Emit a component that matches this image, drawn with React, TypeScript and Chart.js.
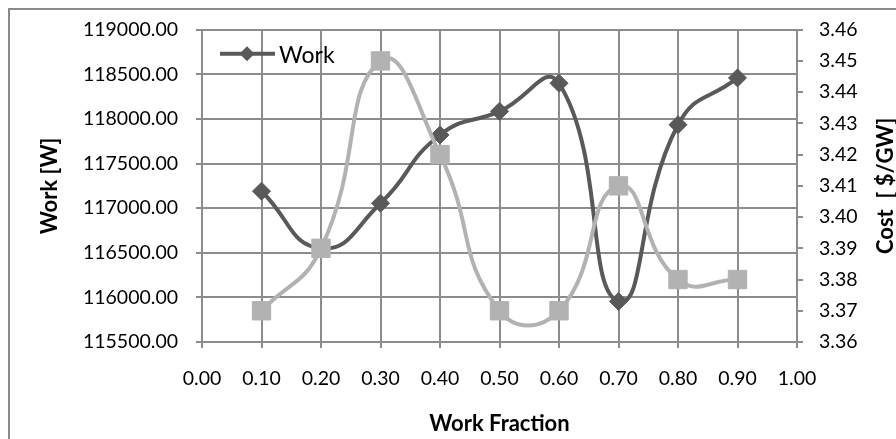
import React, { useEffect, useRef } from 'react';
import { Chart, registerables } from 'chart.js';

Chart.register(...registerables);

const workFraction = [0.1, 0.2, 0.3, 0.4, 0.5, 0.6, 0.7, 0.8, 0.9];
const workValues = [117190, 116550, 117055, 117820, 118085, 118400, 115955, 117935, 118460];
const costValues = [3.37, 3.39, 3.45, 3.42, 3.37, 3.37, 3.41, 3.38, 3.38];
const workLabel = 'Work';
const costLabel = 'Cost';
const xTitle = 'Work Fraction';
const yTitle = 'Work [W]';
const y1Title = 'Cost  [ $/GW]';

const FONT = 'Lato';
const DARK = '#595959';
const LIGHT = '#b2b2b2';
const GRID = '#8c8c8c';

const decor = {
  id: 'decor',
  beforeDraw(chart: any) {
    const { ctx, width, height } = chart;
    ctx.save();
    ctx.fillStyle = '#ffffff';
    ctx.fillRect(0, 0, width, height);
    ctx.strokeStyle = '#8a8a8a';
    ctx.lineWidth = 2;
    ctx.strokeRect(9, 9, width + 20, height + 20);
    ctx.restore();
  },
  afterDraw(chart: any) {
    const { ctx, chartArea } = chart;
    ctx.save();
    // legend entry for first line series
    const ds = chart.data.datasets.find((d: any) => d.label === workLabel);
    const ly = chartArea.top + 24;
    const lx = chartArea.left + 18;
    ctx.strokeStyle = ds.borderColor;
    ctx.lineWidth = 4;
    ctx.beginPath();
    ctx.moveTo(lx, ly);
    ctx.lineTo(lx + 55, ly);
    ctx.stroke();
    ctx.fillStyle = ds.backgroundColor;
    const cx = lx + 27, r = 7.5;
    ctx.beginPath();
    ctx.moveTo(cx, ly - r);
    ctx.lineTo(cx + r, ly);
    ctx.lineTo(cx, ly + r);
    ctx.lineTo(cx - r, ly);
    ctx.closePath();
    ctx.fill();
    ctx.fillStyle = '#000';
    ctx.font = `23px ${FONT}`;
    ctx.textBaseline = 'middle';
    ctx.textAlign = 'left';
    ctx.fillText(ds.label, lx + 59, ly + 1.5);
    // right axis title, reading bottom to top
    ctx.translate(886, (chartArea.top + chartArea.bottom) / 2);
    ctx.rotate(-Math.PI / 2);
    ctx.font = `bold 22px ${FONT}`;
    ctx.textAlign = 'center';
    ctx.textBaseline = 'middle';
    ctx.fillText(y1Title, 0, 0);
    ctx.restore();
  },
};

export default function App() {
  const ref = useRef<HTMLCanvasElement | null>(null);
  useEffect(() => {
    if (!ref.current) return;
    const chart = new Chart(ref.current, {
      type: 'line',
      data: {
        datasets: [
          {
            label: costLabel,
            data: workFraction.map((x, i) => ({ x, y: costValues[i] })),
            yAxisID: 'y1',
            borderColor: LIGHT,
            backgroundColor: LIGHT,
            borderWidth: 4,
            pointStyle: 'rect',
            pointRadius: 13,
            pointBorderWidth: 1,
            tension: 0.5,
            order: 0,
          },
          {
            label: workLabel,
            data: workFraction.map((x, i) => ({ x, y: workValues[i] })),
            yAxisID: 'y',
            borderColor: DARK,
            backgroundColor: DARK,
            borderWidth: 4,
            pointStyle: 'rectRot',
            pointRadius: 9,
            pointBorderWidth: 1,
            tension: 0.5,
            order: 1,
          },
        ],
      },
      options: {
        responsive: false,
        animation: false,
        layout: { padding: { top: 23, left: 0, right: 0, bottom: 0 } },
        plugins: { legend: { display: false }, tooltip: { enabled: false } },
        scales: {
          x: {
            type: 'linear',
            position: 'bottom',
            min: 0,
            max: 1,
            ticks: {
              stepSize: 0.1,
              color: '#000',
              padding: 19,
              font: { family: FONT, size: 19.5 },
              callback: (v: any) => Number(v).toFixed(2),
            },
            grid: { color: GRID, lineWidth: 2, tickLength: 6, drawTicks: true },
            border: { color: GRID, width: 2 },
            title: {
              display: true,
              text: xTitle,
              color: '#000',
              font: { family: FONT, size: 22, weight: 'bold' },
              padding: { top: 0, bottom: 2 },
            },
            afterFit: (s: any) => { s.height = 97; },
          },
          y: {
            type: 'linear',
            position: 'left',
            min: 115500,
            max: 119000,
            ticks: {
              stepSize: 500,
              color: '#000',
              padding: 18,
              font: { family: FONT, size: 19.5 },
              callback: (v: any) => Number(v).toFixed(2),
            },
            grid: { color: GRID, lineWidth: 2, tickLength: 6 },
            border: { color: GRID, width: 2 },
            title: {
              display: true,
              text: yTitle,
              color: '#000',
              font: { family: FONT, size: 22, weight: 'bold' },
              padding: { top: 37, bottom: 0 },
            },
            afterFit: (s: any) => { s.width = 202; },
          },
          y1: {
            type: 'linear',
            position: 'right',
            min: 3.36,
            max: 3.46,
            ticks: {
              stepSize: 0.01,
              color: '#000',
              padding: 16,
              font: { family: FONT, size: 19.5 },
              callback: (v: any) => Number(v).toFixed(2),
            },
            grid: { color: GRID, lineWidth: 2, tickLength: 6, drawOnChartArea: false },
            border: { color: GRID, width: 2 },
            afterFit: (s: any) => { s.width = 99; },
          },
        },
      },
      plugins: [decor],
    } as any);
    return () => chart.destroy();
  }, []);
  return (
    <div style={{ position: 'absolute', left: 0, top: 0, width: 896, height: 439 }}>
      <canvas ref={ref} width={896} height={439} style={{ display: 'block' }} />
    </div>
  );
}
